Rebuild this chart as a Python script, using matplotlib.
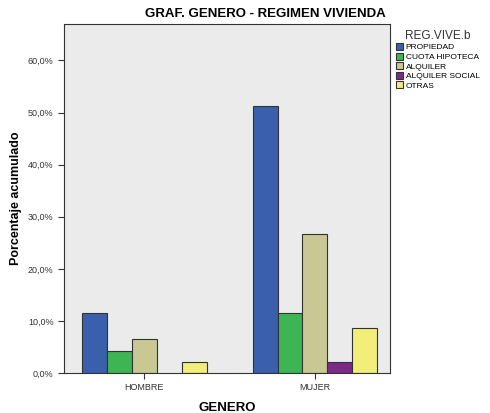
import matplotlib.pyplot as plt
import numpy as np
from matplotlib.ticker import FuncFormatter
from matplotlib.patches import Patch

plt.rcParams['font.family'] = ['Liberation Sans', 'DejaVu Sans']

# data
generos = ['HOMBRE', 'MUJER']
regimen = ['PROPIEDAD', 'CUOTA HIPOTECA', 'ALQUILER', 'ALQUILER SOCIAL', 'OTRAS']
hombre = [11.5, 4.3, 6.5, 0.0, 2.2]
mujer = [51.2, 11.5, 26.7, 2.2, 8.7]
colores = ['#3A5FAD', '#3DB553', '#C9C894', '#7B2A85', '#F1EE7A']

fig = plt.figure(figsize=(4.9, 4.13), dpi=100)
ax = fig.add_axes([64 / 490, 40 / 413, 326 / 490, 349 / 413])
ax.set_facecolor('#EBEBEB')

x = np.arange(len(generos))
w = 0.146
valores = np.array([hombre, mujer])
for i, nombre in enumerate(regimen):
    vals = valores[:, i]
    bars = ax.bar(x + (i - 2) * w, vals, w, color=colores[i],
                  edgecolor='#333333', linewidth=0.8)
    # hide zero-height bars
    for b, v in zip(bars, vals):
        if v == 0:
            b.set_visible(False)

ax.set_xlim(-0.47, 1.44)
ax.set_ylim(0, 67)
ax.set_yticks(np.arange(0, 61, 10))
ax.yaxis.set_major_formatter(FuncFormatter(lambda v, p: f'{v:.1f}%'.replace('.', ',')))
ax.set_xticks(x)
ax.set_xticklabels(generos)
ax.tick_params(labelsize=6.5, length=4, width=0.8, color='#333333', labelcolor='#333333')
for s in ax.spines.values():
    s.set_color('#333333')
    s.set_linewidth(0.8)

ax.set_ylabel('Porcentaje acumulado', fontsize=9, fontweight='bold', labelpad=4)
ax.set_xlabel('GENERO', fontsize=9.5, fontweight='bold', labelpad=7)
fig.text(265 / 490, 1 - 14 / 413, 'GRAF. GENERO - REGIMEN VIVIENDA',
         ha='center', va='center', fontsize=9.5, fontweight='bold')

handles = [Patch(facecolor=c, edgecolor='#333333', linewidth=0.8) for c in colores]
leg = ax.legend(handles, regimen, loc='upper left', bbox_to_anchor=(1.0, 1.0),
                frameon=False, title='REG.VIVE.b', fontsize=6, title_fontsize=8.5,
                handlelength=0.9, handleheight=0.9, handletextpad=0.3,
                labelspacing=0.15, borderaxespad=0.3)
leg.get_title().set_color('#333333')

fig.savefig('out.png', dpi=100)
